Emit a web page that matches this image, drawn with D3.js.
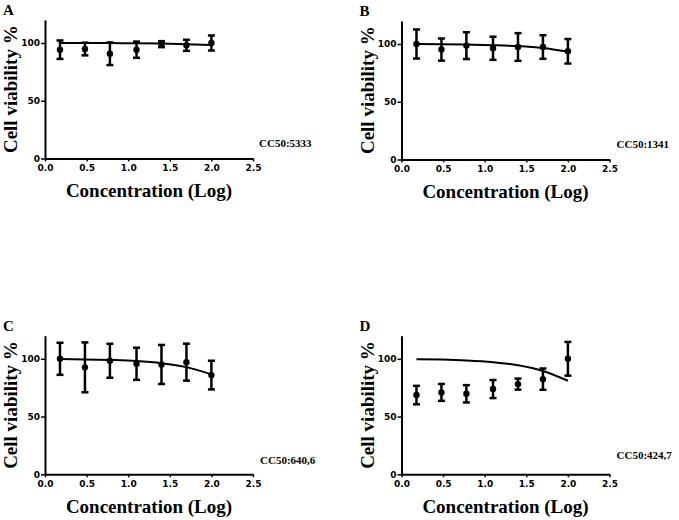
<!DOCTYPE html>
<html>
<head>
<meta charset="utf-8">
<script src="https://cdn.jsdelivr.net/npm/d3@7"></script>
<style>
  body { margin: 0; background: #fff; }
  svg { display: block; }
</style>
</head>
<body>
<svg id="chart" width="679" height="520"></svg>
<script>
// log concentration of each dose
var xValues = [0.18, 0.48, 0.78, 1.1, 1.4, 1.7, 2.0];
var xTicks = [0, 0.5, 1, 1.5, 2, 2.5];
var yTicks = [0, 50, 100];

var panelLabels = ["A", "B", "C", "D"];
var cc50Labels = ["CC50:5333", "CC50:1341", "CC50:640,6", "CC50:424,7"];

// mean viability and error (half bar) per panel
var meansA = [94.2, 94.8, 90.7, 94.2, 99, 98, 100];
var errA = [8, 5.5, 9.8, 7, 2.6, 4.8, 6.5];
var meansB = [100, 95.2, 98.6, 96.3, 97.4, 97.4, 93.7];
var errB = [12.6, 9.6, 11.6, 10, 12, 10.2, 10.6];
var meansC = [100, 92.6, 98.3, 95.7, 95.1, 97.1, 85.9];
var errC = [13.9, 21.6, 14.7, 13.9, 16.9, 16, 12.4];
var meansD = [68.6, 70.9, 69.7, 73.8, 78.1, 82.4, 100];
var errD = [8, 7.3, 7.5, 7.8, 4.8, 9.2, 14.6];

// fitted curve values read at each dose
var fitA = [100, 99.9, 99.9, 99.8, 99.5, 99, 98.2];
var fitB = [99.9, 99.8, 99.5, 99, 98.2, 96.5, 93.2];
var fitC = [99.8, 99.5, 99, 98.1, 96.2, 92.8, 86.5];
var fitD = [99.6, 99.3, 98.6, 97.1, 94.4, 89.5, 81];

var means = [meansA, meansB, meansC, meansD];
var errs = [errA, errB, errC, errD];
var fits = [fitA, fitB, fitC, fitD];

// where each panel's origin sits, plus label offsets
var layout = [
    { x0: 45, y0: 158.5, ccx: 214, ccy: -11.5 },
    { x0: 401.5, y0: 159.5, ccx: 215, ccy: -11 },
    { x0: 45, y0: 474.3, ccx: 215, ccy: -10 },
    { x0: 401.5, y0: 474.3, ccx: 215, ccy: -15 }
];

var plotW = 208, plotH = 138.6;
var serif = "'Liberation Serif', 'Times New Roman', serif";
var sans = "'DejaVu Sans', Arial, sans-serif";

var svg = d3.select("#chart");

for (var p = 0; p < 4; p++) {
    drawPanel(p);
}

function drawPanel(p) {
    var L = layout[p];
    var g = svg.append("g").attr("transform", "translate(" + L.x0 + "," + (L.y0 - plotH) + ")");

    var x = d3.scaleLinear().domain([0, 2.5]).range([0, plotW]);
    var y = d3.scaleLinear().domain([0, 120]).range([plotH, 0]);

    var xAxis = d3.axisBottom(x).tickValues(xTicks).tickFormat(d3.format(".1f"))
        .tickSizeInner(3).tickSizeOuter(0).tickPadding(3);
    var yAxis = d3.axisLeft(y).tickValues(yTicks).tickFormat(d3.format("d"))
        .tickSizeInner(4).tickSizeOuter(0).tickPadding(1);

    var gx = g.append("g").attr("transform", "translate(0," + plotH + ")").call(xAxis);
    var gy = g.append("g").call(yAxis);

    [gx, gy].forEach(function (a) {
        a.select(".domain").attr("stroke", "#000").attr("stroke-width", 2);
        a.selectAll(".tick line").attr("stroke", "#000").attr("stroke-width", 1.5);
        a.selectAll(".tick text")
            .attr("fill", "#000")
            .style("font-family", sans)
            .style("font-weight", "bold")
            .style("font-size", "9px");
    });

    // fitted curve
    var pts = xValues.map(function (d, i) { return [d, fits[p][i]]; });
    var line = d3.line()
        .x(function (d) { return x(d[0]); })
        .y(function (d) { return y(d[1]); })
        .curve(d3.curveMonotoneX);
    g.append("path")
        .datum(pts)
        .attr("d", line)
        .attr("fill", "none")
        .attr("stroke", "#000")
        .attr("stroke-width", 2);

    // error bars
    var data = xValues.map(function (d, i) { return { x: d, m: means[p][i], e: errs[p][i] }; });
    var bars = g.selectAll(".eb").data(data).enter().append("g");
    bars.append("line")
        .attr("x1", function (d) { return x(d.x); })
        .attr("x2", function (d) { return x(d.x); })
        .attr("y1", function (d) { return y(d.m + d.e); })
        .attr("y2", function (d) { return y(d.m - d.e); })
        .attr("stroke", "#000").attr("stroke-width", 2.5);
    [1, -1].forEach(function (s) {
        bars.append("line")
            .attr("x1", function (d) { return x(d.x) - 3.5; })
            .attr("x2", function (d) { return x(d.x) + 3.5; })
            .attr("y1", function (d) { return y(d.m + s * d.e); })
            .attr("y2", function (d) { return y(d.m + s * d.e); })
            .attr("stroke", "#000").attr("stroke-width", 2.5);
    });
    bars.append("circle")
        .attr("cx", function (d) { return x(d.x); })
        .attr("cy", function (d) { return y(d.m); })
        .attr("r", 3.2)
        .attr("fill", "#000");

    // titles
    g.append("text")
        .attr("x", 104)
        .attr("y", plotH + 39)
        .attr("text-anchor", "middle")
        .style("font-family", serif).style("font-weight", "bold").style("font-size", "19px")
        .text("Concentration (Log)");

    g.append("text")
        .attr("transform", "translate(-28," + (plotH / 2) + ") rotate(-90)")
        .attr("text-anchor", "middle")
        .style("font-family", serif).style("font-weight", "bold").style("font-size", "19px")
        .text("Cell viability %");

    g.append("text")
        .attr("x", -42)
        .attr("y", -5)
        .style("font-family", serif).style("font-weight", "bold").style("font-size", "15px")
        .text(panelLabels[p]);

    g.append("text")
        .attr("x", L.ccx)
        .attr("y", plotH + L.ccy)
        .style("font-family", serif).style("font-weight", "bold").style("font-size", "11px")
        .text(cc50Labels[p]);
}
</script>
</body>
</html>
